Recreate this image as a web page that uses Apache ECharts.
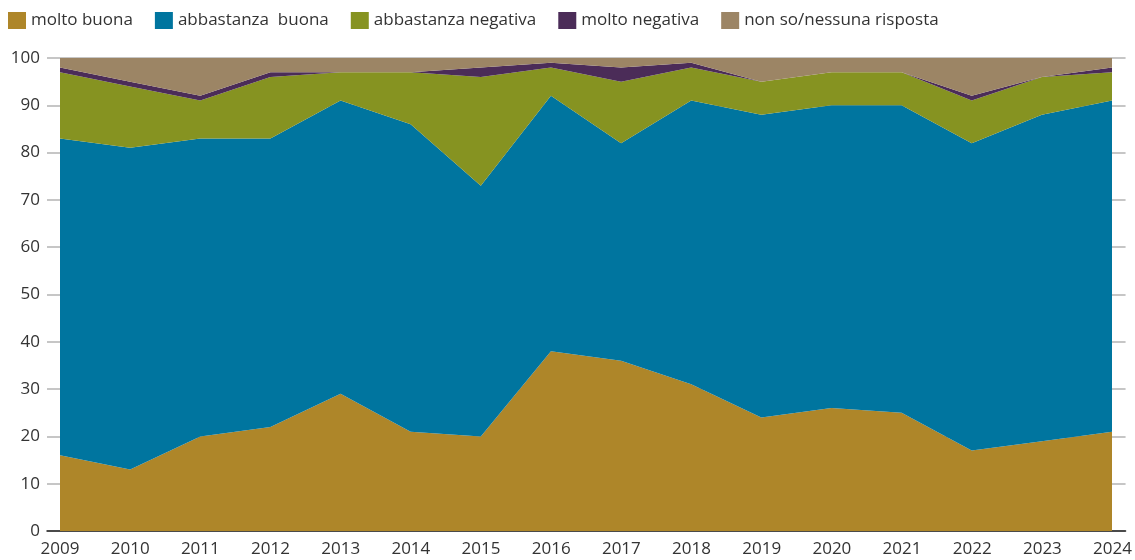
<!DOCTYPE html>
<html>
<head>
<meta charset="utf-8">
<script src="https://cdn.jsdelivr.net/npm/echarts@6/dist/echarts.min.js"></script>
<style>
  html, body { margin: 0; padding: 0; background: #fff; }
  #chart { width: 1135px; height: 560px; }
</style>
</head>
<body>
<div id="chart"></div>
<script>
// Survey years and answer shares (percent), stacked bottom to top
const years = [2009, 2010, 2011, 2012, 2013, 2014, 2015, 2016, 2017, 2018, 2019, 2020, 2021, 2022, 2023, 2024];
const moltoBuona          = [16, 13, 20, 22, 29, 21, 20, 38, 36, 31, 24, 26, 25, 17, 19, 21];
const abbastanzaBuona     = [67, 68, 63, 61, 62, 65, 53, 54, 46, 60, 64, 64, 65, 65, 69, 70];
const abbastanzaNegativa  = [14, 13,  8, 13,  6, 11, 23,  6, 13,  7,  7,  7,  7,  9,  8,  6];
const moltoNegativa       = [ 1,  1,  1,  1,  0,  0,  2,  1,  3,  1,  0,  0,  0,  1,  0,  1];
const nonSo               = [ 2,  5,  8,  3,  3,  3,  2,  1,  2,  1,  5,  3,  3,  8,  4,  2];
const yTicks = [0, 10, 20, 30, 40, 50, 60, 70, 80, 90, 100];

const seriesDefs = [
  { name: 'molto buona', values: moltoBuona, color: '#ae8629' },
  { name: 'abbastanza  buona', values: abbastanzaBuona, color: '#00759f' },
  { name: 'abbastanza negativa', values: abbastanzaNegativa, color: '#869321' },
  { name: 'molto negativa', values: moltoNegativa, color: '#4b2c58' },
  { name: 'non so/nessuna risposta', values: nonSo, color: '#9c8565' }
];

// the frame (gridlines, baseline, labels) reaches a little past the first and last year
const pad = 0.1852;
const font = '"Open Sans", "Noto Sans", sans-serif';
const gridTop = 58, gridBottom = 29;

const chart = echarts.init(document.getElementById('chart'), null, { renderer: 'canvas' });
chart.setOption({
  animation: false,
  textStyle: { fontFamily: font },
  legend: {
    left: 8,
    top: 12,
    padding: 0,
    itemWidth: 18,
    itemHeight: 17,
    itemGap: 22,
    icon: 'rect',
    textStyle: { fontSize: 17, color: '#333', fontFamily: font },
    data: seriesDefs.map(s => s.name)
  },
  grid: [
    // frame grid
    { left: 47, right: 9, top: gridTop, bottom: gridBottom },
    // data grid
    { left: 60, right: 23, top: gridTop, bottom: gridBottom }
  ],
  xAxis: [
    {
      gridIndex: 0,
      type: 'value',
      min: years[0] - pad,
      max: years[years.length - 1] + pad,
      axisLine: { show: true, onZero: false, lineStyle: { color: '#222', width: 1.5 } },
      axisTick: { show: false },
      splitLine: { show: false },
      axisLabel: {
        customValues: years,
        formatter: v => String(Math.round(v)),
        fontSize: 17,
        color: '#333',
        margin: 10,
        fontFamily: font
      }
    },
    {
      gridIndex: 1,
      type: 'category',
      data: years.map(String),
      boundaryGap: false,
      show: false
    }
  ],
  yAxis: [
    {
      gridIndex: 0,
      type: 'value',
      min: yTicks[0],
      max: yTicks[yTicks.length - 1],
      interval: 10,
      axisLine: { show: false },
      axisTick: { show: false },
      splitLine: { show: true, lineStyle: { color: '#b3b3b3', width: 1.5 } },
      axisLabel: { fontSize: 17, color: '#333', margin: 7, fontFamily: font }
    },
    {
      gridIndex: 1,
      type: 'value',
      min: yTicks[0],
      max: yTicks[yTicks.length - 1],
      show: false,
      splitLine: { show: false }
    }
  ],
  series: seriesDefs.map(s => ({
    name: s.name,
    type: 'line',
    xAxisIndex: 1,
    yAxisIndex: 1,
    stack: 'total',
    symbol: 'none',
    z: 3,
    lineStyle: { width: 0 },
    itemStyle: { color: s.color },
    areaStyle: { color: s.color, opacity: 1 },
    data: s.values
  }))
});
</script>
</body>
</html>
